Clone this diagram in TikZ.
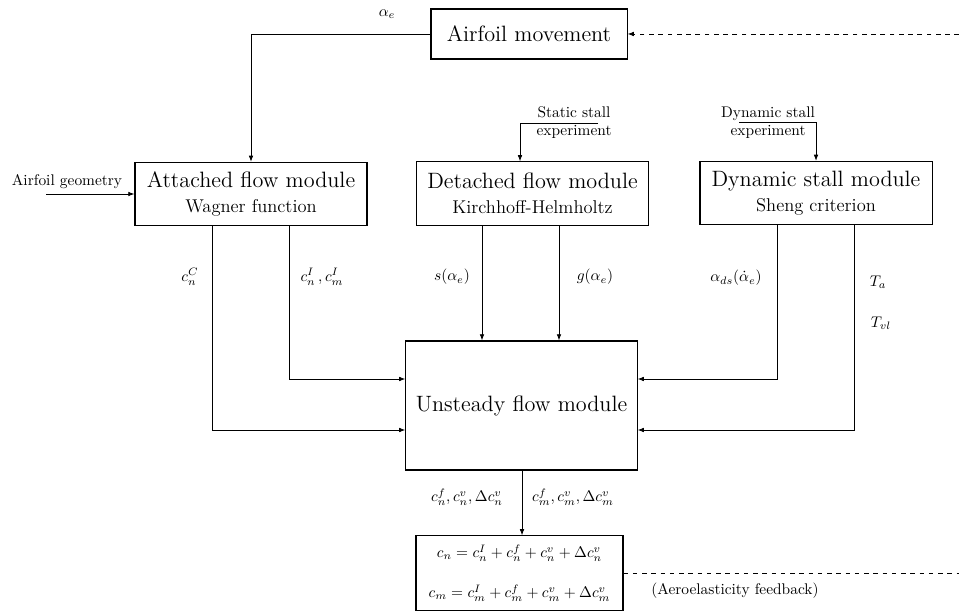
\documentclass[tikz,border=0pt]{standalone}
\usepackage{amsmath}
\usetikzlibrary{positioning,arrows.meta,calc}

\begin{document}
\begin{tikzpicture}[
    x=0.0228cm, y=-0.0228cm,
    % Estilos dos nós
    every node/.style={font=\normalsize},
    module/.style={draw, rectangle, line width=0.7pt, font=\large,
                   minimum width=5.29cm, minimum height=1.44cm, align=center},
    core/.style={draw, rectangle, line width=0.7pt, font=\Large,
                 minimum width=5.27cm, minimum height=2.94cm},
    result/.style={draw, rectangle, line width=0.7pt,
                   minimum width=4.72cm, minimum height=1.69cm, align=center},
    source/.style={draw, rectangle, line width=0.7pt, font=\Large,
                   minimum width=4.47cm, minimum height=1.14cm},
    info/.style={align=center, inner sep=1pt},
    flow/.style={draw, line width=0.55pt, -{Latex[length=4pt,width=3pt]}},
    feedback/.style={draw, line width=0.55pt, dashed}
]

\useasboundingbox (0,0) rectangle (959,612);

% Módulos
\node[source] (move) at (529,34) {Airfoil movement};
\node[module] (att) at (251,194) {{\Large Attached flow module}\\[2pt]Wagner function};
\node[module] (det) at (532.5,193.5) {{\Large Detached flow module}\\[2pt]Kirchhoff-Helmholtz};
\node[module] (dyn) at (816,193) {{\Large Dynamic stall module}\\[2pt]Sheng criterion};
\node[core] (uns) at (521.5,405.5) {Unsteady flow module};
\node[result] (sum) at (519.5,573) {
    $c_n = c^I_n + c^f_n + c^v_n + \Delta c^v_n$\\[14pt]
    $c_m = c^I_m + c^f_m + c^v_m + \Delta c^v_m$
};

% Entradas
\node (ae) at (387,14) {$\alpha_e$};
\draw[flow] (move.west) -| (att.north);

\node (geo) at (67,182) {Airfoil geometry};
\coordinate (geo-in) at (46,194);
\draw[flow] (geo-in) -- (att.west);

\node[info] (sse) at (574,122.5) {Static stall\\experiment};
\coordinate (sse-in) at (598,123);
\draw[flow] (sse-in) -| ($(det.north)+(-12.5,0)$);

\node[info] (dse) at (768,122.5) {Dynamic stall\\experiment};
\coordinate (dse-in) at (739,122);
\draw[flow] (dse-in) -| (dyn.north);

% Colunas e linhas das ligações
\coordinate (cC) at (212,0);
\coordinate (cI) at (289,0);
\coordinate (cs) at (482,0);
\coordinate (cg) at (559,0);
\coordinate (cds) at (777,0);
\coordinate (cT) at (854,0);
\coordinate (cout) at (522,0);
\coordinate (r1) at (0,379);
\coordinate (r2) at (0,430);

\draw[flow] (att.south -| cC) |- (uns.west |- r2);
\draw[flow] (att.south -| cI) |- (uns.west |- r1);
\draw[flow] (det.south -| cs) -- (uns.north -| cs);
\draw[flow] (det.south -| cg) -- (uns.north -| cg);
\draw[flow] (dyn.south -| cds) |- (uns.east |- r1);
\draw[flow] (dyn.south -| cT) |- (uns.east |- r2);
\draw[flow] (uns.south -| cout) -- (sum.north -| cout);

% Rótulos
\node (lcC) at (190,277) {$c^C_n$};
\node (lcI) at (322,277) {$c^I_n\,, c^I_m$};
\node (ls) at (452,277) {$s(\alpha_e)$};
\node (lg) at (595,277) {$g(\alpha_e)$};
\node (lds) at (736,278) {$\alpha_{ds}(\dot{\alpha}_e)$};
\node (lTa) at (878,282) {$T_a$};
\node (lTvl) at (881,323) {$T_{vl}$};
\node (lfn) at (467,497) {$c^f_n, c^v_n, \Delta c^v_n$};
\node (lfm) at (573,497) {$c^f_m, c^v_m, \Delta c^v_m$};

% Realimentação
\coordinate (fb-in) at (959,34);
\draw[flow, dashed] (fb-in) -- (move.east);
\coordinate (fb-out) at (959,573);
\draw[feedback] (sum.east) -- (fb-out);
\node (lfb) at (735,591) {(Aeroelasticity feedback)};

\end{tikzpicture}
\end{document}
